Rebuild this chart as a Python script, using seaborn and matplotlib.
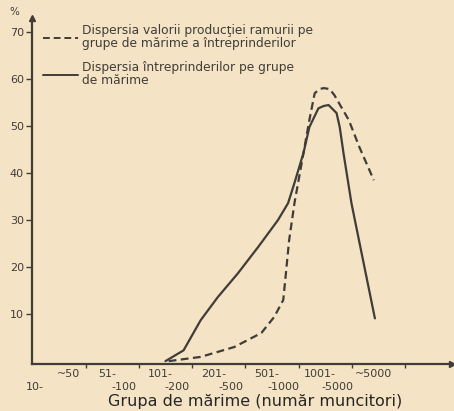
import numpy as np
import pandas as pd
import matplotlib.pyplot as plt
import seaborn as sns

# -------------------------------
# data
# -------------------------------

# x axis: one unit per size group, boundary k at x = k
group_top = ["~50", "51-", "101-", "201-", "501-", "1001-", "~5000"]
group_bottom = ["10-", "-100", "-200", "-500", "-1000", "-5000"]
y_ticks = [10, 20, 30, 40, 50, 60, 70]

# dashed curve: value of branch production by size group (%)
prod_x = [2.56, 3.16, 3.79, 4.30, 4.54, 4.71, 4.76, 4.82, 4.92, 5.09,
          5.20, 5.30, 5.39, 5.47, 5.58, 5.67, 5.94, 6.14, 6.41]
prod_y = [0.0, 0.9, 3.0, 6.0, 9.4, 13.0, 18.7, 25.7, 33.6, 44.3,
          51.3, 57.0, 57.9, 58.1, 57.9, 56.6, 51.3, 45.5, 38.5]

# solid curve: enterprises by size group (%)
firms_x = [2.50, 2.84, 3.16, 3.48, 3.86, 4.24, 4.61, 4.80, 4.92, 5.09,
           5.20, 5.37, 5.47, 5.56, 5.71, 5.77, 5.84, 5.99, 6.18, 6.43]
firms_y = [0.0, 2.3, 8.7, 13.6, 18.7, 24.3, 30.0, 33.6, 37.9, 44.3,
           49.8, 53.8, 54.3, 54.5, 52.8, 49.8, 44.3, 33.6, 23.0, 9.1]

label_prod = "Dispersia valorii producţiei ramurii pe\ngrupe de mărime a întreprinderilor"
label_firms = "Dispersia întreprinderilor pe grupe\nde mărime"

df = pd.concat([
    pd.DataFrame({"grupa": prod_x, "procent": prod_y, "serie": label_prod}),
    pd.DataFrame({"grupa": firms_x, "procent": firms_y, "serie": label_firms}),
])

# -------------------------------
# style
# -------------------------------

paper = "#f4e4c5"
ink = "#403c37"

sns.set_theme(style="white")
plt.rcParams["font.family"] = ["DejaVu Sans"]
plt.rcParams["text.color"] = ink
plt.rcParams["axes.edgecolor"] = ink
plt.rcParams["xtick.color"] = ink
plt.rcParams["ytick.color"] = ink

fig = plt.figure(figsize=(4.54, 4.11), dpi=100, facecolor=paper)
ax = fig.add_axes([0.071, 0.114, 0.925, 0.842], facecolor=paper)

sns.lineplot(data=df, x="grupa", y="procent", style="serie", sort=False,
             color=ink, linewidth=1.6, dashes={label_prod: (3.5, 2), label_firms: ""},
             ax=ax)

ax.set_xlim(0, 7.88)
ax.set_ylim(-0.64, 73)
sns.despine(ax=ax)
for s in ("left", "bottom"):
    ax.spines[s].set_linewidth(1.6)

# arrows at axis ends
ax.plot(1, -0.64, ">", color=ink, ms=5, transform=ax.get_yaxis_transform(), clip_on=False)
ax.plot(0, 1, "^", color=ink, ms=5, transform=ax.transAxes, clip_on=False)

# y ticks
ax.set_yticks(y_ticks)
ax.tick_params(axis="y", direction="out", length=4, width=1, pad=2, labelsize=8, left=True)
ax.annotate("%", xy=(0, 1), xycoords="axes fraction", xytext=(-13, 1),
            textcoords="offset points", fontsize=7.5, ha="center", va="bottom")

# x ticks at group boundaries, labels drawn as two staggered rows
ax.set_xticks(range(1, 8))
ax.set_xticklabels([])
ax.tick_params(axis="x", direction="out", length=3, width=1, bottom=True)

top_pos = [0.68] + [k + 0.40 for k in range(1, 7)]
bottom_pos = [0.05] + [k + 0.72 for k in range(1, 6)]
for pos, txt in zip(top_pos, group_top):
    ax.annotate(txt, xy=(pos, 0), xycoords=("data", "axes fraction"), xytext=(0, -3.5),
                textcoords="offset points", fontsize=8, ha="center", va="top")
for pos, txt in zip(bottom_pos, group_bottom):
    ax.annotate(txt, xy=(pos, 0), xycoords=("data", "axes fraction"), xytext=(0, -13),
                textcoords="offset points", fontsize=8, ha="center", va="top")

ax.set_xlabel("Grupa de mărime (număr muncitori)", fontsize=11.5, labelpad=15, x=0.53)
ax.set_ylabel("")

leg = ax.legend(loc="upper left", bbox_to_anchor=(0.025, 0.983), frameon=False,
                fontsize=8.8, handlelength=2.9, handletextpad=0.3, borderpad=0,
                labelspacing=0.9, borderaxespad=0)
for t in leg.get_texts():
    t.set_linespacing(1.0)
for line in leg.get_lines():
    line.set_linewidth(1.4)
    line.set_color(ink)

fig.savefig("out.png", dpi=100, facecolor=paper)
plt.close(fig)
